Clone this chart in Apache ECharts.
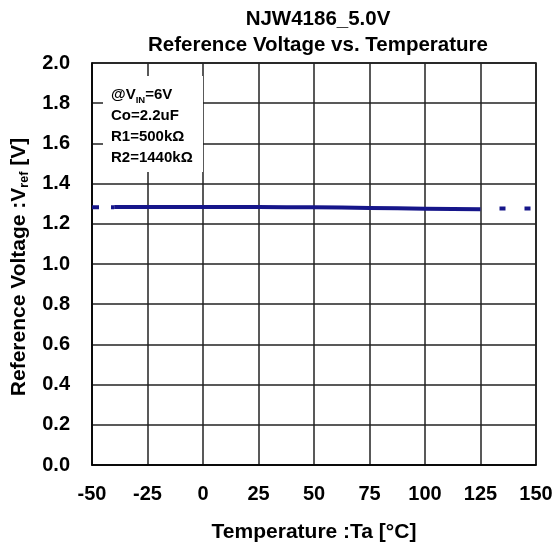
<!DOCTYPE html>
<html><head><meta charset="utf-8">
<script src="https://cdn.jsdelivr.net/npm/echarts@6/dist/echarts.min.js"></script>
<style>html,body{margin:0;padding:0;background:#fff}#c{width:555px;height:542px}</style>
</head><body><div id="c"></div>
<script>
const titleLines = ['NJW4186_5.0V', 'Reference Voltage vs. Temperature'];
const xTicks = [-50, -25, 0, 25, 50, 75, 100, 125, 150];
const yTicks = [0.0, 0.2, 0.4, 0.6, 0.8, 1.0, 1.2, 1.4, 1.6, 1.8, 2.0];
const tempMeasured = [-40, -25, 0, 25, 50, 75, 100, 125];
const vrefMeasured = [1.283, 1.283, 1.283, 1.283, 1.282, 1.279, 1.275, 1.273];
const tempExtLeft = [-50, -40];
const vrefExtLeft = [1.282, 1.282];
const tempExtRight = [125, 150];
const vrefExtRight = [1.276, 1.276];
const notes = ['@V{sub|IN}=6V', 'Co=2.2uF', 'R1=500kΩ', 'R2=1440kΩ'];

const FONT = 'Liberation Sans, Arial, sans-serif';
const col = '#16168a';
const chart = echarts.init(document.getElementById('c'));
const pair = (xs, ys) => xs.map((x, i) => [x, ys[i]]);
chart.setOption({
  animation: false,
  title: {
    text: titleLines.join('\n'), left: 313, top: 2, textAlign: 'center',
    textStyle: { fontFamily: FONT, fontWeight: 'bold', fontSize: 20.5, lineHeight: 25.5, color: '#000' }
  },
  grid: { left: 92, right: 19, top: 63, bottom: 77, containLabel: false, outerBoundsMode: 'none',
    show: true, borderColor: '#000', borderWidth: 1.5, backgroundColor: 'transparent' },
  xAxis: {
    type: 'value', min: -50, max: 150, interval: 25,
    name: 'Temperature :Ta [°C]', nameLocation: 'middle', nameGap: 57,
    nameTextStyle: { fontFamily: FONT, fontWeight: 'bold', fontSize: 21, color: '#000' },
    axisLine: { show: true, onZero: false, lineStyle: { color: '#000', width: 1.5 } },
    axisTick: { show: false },
    axisLabel: { fontFamily: FONT, fontWeight: 'bold', fontSize: 20, color: '#000', margin: 19,
      formatter: v => xTicks.includes(v) ? String(v) : '' },
    splitLine: { show: true, lineStyle: { color: '#222', width: 1.5 } }
  },
  yAxis: {
    type: 'value', min: 0, max: 2.0, interval: 0.2,
    name: '{a|Reference Voltage :V}{s|ref}{a| [V]}', nameLocation: 'middle', nameGap: 61, nameRotate: 90,
    nameTextStyle: { padding: [0, 6, 0, 0], rich: {
      a: { fontFamily: FONT, fontWeight: 'bold', fontSize: 21, color: '#000' },
      s: { fontFamily: FONT, fontWeight: 'bold', fontSize: 12.5, color: '#000', verticalAlign: 'bottom', padding: [10,0,0,0] }
    } },
    axisLine: { show: true, onZero: false, lineStyle: { color: '#000', width: 1.5 } },
    axisTick: { show: false },
    axisLabel: { fontFamily: FONT, fontWeight: 'bold', fontSize: 20, color: '#000', margin: 22,
      formatter: v => { const t = yTicks.find(y => Math.abs(y - v) < 1e-6); return t === undefined ? '' : t.toFixed(1); } },
    splitLine: { show: true, lineStyle: { color: '#222', width: 1.5 } }
  },
  graphic: [
    { type: 'rect', left: 103, top: 76, shape: { width: 100, height: 96 }, style: { fill: '#fff' }, z: 10 },
    { type: 'text', left: 111, top: 85, z: 11,
      style: { text: notes.join('\n'), fontFamily: FONT, fontWeight: 'bold', fontSize: 15, lineHeight: 20.7, fill: '#000',
        rich: { sub: { fontFamily: FONT, fontWeight: 'bold', fontSize: 9.5, fill: '#000', verticalAlign: 'bottom', padding: [7,0,0,0] } } } }
  ],
  series: [
    { type: 'line', data: pair(tempMeasured, vrefMeasured), showSymbol: false, smooth: true,
      lineStyle: { color: col, width: 4 }, z: 5 },
    { type: 'line', data: pair(tempExtLeft, vrefExtLeft), showSymbol: false,
      lineStyle: { color: col, width: 4, type: [7, 12] }, z: 5 },
    { type: 'line', data: pair(tempExtRight, vrefExtRight), showSymbol: false,
      lineStyle: { color: col, width: 4, type: [6, 19], dashOffset: 6 }, z: 5 }
  ]
});
</script></body></html>
